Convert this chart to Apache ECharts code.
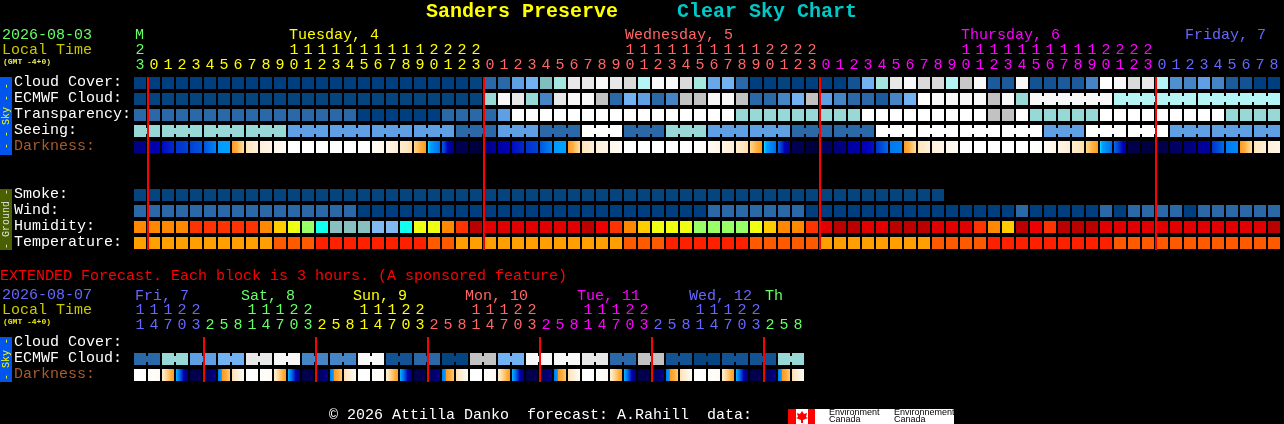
<!DOCTYPE html>
<html>
<head>
<meta charset="utf-8">
<style>html,body{margin:0;padding:0;background:#000}#c{width:1284px;height:424px}</style>
<script src="https://cdn.jsdelivr.net/npm/echarts@6/dist/echarts.min.js"></script>
</head>
<body>
<div id="c"></div>
<script>
// ---------- chart data ----------
const mainHours = [23,0,1,2,3,4,5,6,7,8,9,10,11,12,13,14,15,16,17,18,19,20,21,22,23,0,1,2,3,4,5,6,7,8,9,10,11,12,13,14,15,16,17,18,19,20,21,22,23,0,1,2,3,4,5,6,7,8,9,10,11,12,13,14,15,16,17,18,19,20,21,22,23,0,1,2,3,4,5,6,7,8];
const mainDayIndex = [0,1,1,1,1,1,1,1,1,1,1,1,1,1,1,1,1,1,1,1,1,1,1,1,1,2,2,2,2,2,2,2,2,2,2,2,2,2,2,2,2,2,2,2,2,2,2,2,2,3,3,3,3,3,3,3,3,3,3,3,3,3,3,3,3,3,3,3,3,3,3,3,3,4,4,4,4,4,4,4,4,4];
const extHours = [11,14,17,20,23,2,5,8,11,14,17,20,23,2,5,8,11,14,17,20,23,2,5,8,11,14,17,20,23,2,5,8,11,14,17,20,23,2,5,8,11,14,17,20,23,2,5,8];
const extDayIndex = [4,4,4,4,4,0,0,0,0,0,0,0,0,1,1,1,1,1,1,1,1,2,2,2,2,2,2,2,2,3,3,3,3,3,3,3,3,4,4,4,4,4,4,4,4,0,0,0];

const mainDayNames = ['M','Tuesday, 4','Wednesday, 5','Thursday, 6','Friday, 7'];
const mainDayCols  = [0,11,35,59,75];
const mainDayColor = [0,1,2,3,4];
const extDayNames  = ['Fri, 7','Sat, 8','Sun, 9','Mon, 10','Tue, 11','Wed, 12','Th'];
const extDayCols   = [0,7.57,15.57,23.57,31.57,39.57,45];
const extDayColor  = [4,0,1,2,3,4,0];

const mainRows = ['Cloud Cover:','ECMWF Cloud:','Transparency:','Seeing:','Darkness:','','','Smoke:','Wind:','Humidity:','Temperature:'];
const extRows  = ['Cloud Cover:','ECMWF Cloud:','Darkness:'];

const cloudCover = [0,0,0,0,0,0,0,0,0,0,0,0,0,0,0,0,0,0,0,0,0,0,0,0,5,20,20,40,50,55,65,90,90,95,90,85,70,95,95,85,65,45,50,20,0,0,5,0,0,0,0,10,50,65,90,95,85,85,70,82,95,15,15,95,10,10,15,15,30,100,95,85,90,70,35,30,40,30,15,10,0,0];
const ecmwfHourly = [5,5,5,5,5,5,5,5,5,5,5,5,5,5,5,5,5,5,5,5,5,5,5,5,5,60,95,90,60,30,90,95,95,80,20,50,40,20,30,80,80,95,95,80,20,20,30,50,80,40,30,20,20,15,30,50,100,95,95,95,95,80,95,60];
const ecmwfSixHourly = [95,70,70];
const transparency = [20,20,20,20,20,20,20,20,20,20,20,20,20,20,20,20,0,0,0,0,0,0,20,20,20,20,40,100,100,100,100,100,100,100,100,100,100,100,100,100,100,100,100,60,60,60,60,60,60,60,60,60,100,100,100,100,100,100,100,100,100,80,80,100,60,60,60,60,60,100,100,100,100,100,100,100,100,100,60,60,60,60];
const seeingBlocks = [60,60,60,60,40,40,40,40,20,40,20,100,20,60,40,40,20,20,100,100,100,100,40,100,100,40,40,40];
const seeingBlockLengths = [2,3,3,3,3,3,3,3,3,3,3,3,3,3,3,3,3,3,3,3,3,3,3,3,3,3,3,2];
const darkStart = [8.6,8,7.4,7,6.8,6.5,5.3,5,2.2,1.5,1,0,0,0,0,0,0,.4,1,1.7,2.8,5,6.4,9.2,9.5,8.6,8,7.4,7,6.5,5.3,5,2.2,1.5,1,0,0,0,0,0,0,.5,1,1.7,2.8,5,6.3,9.2,9.5,9,8.7,8,7.7,7,6,5,2.2,1.5,1,0,0,0,0,0,0,.5,1,1.7,2.8,5,6.2,9.3,9.5,9.3,9,8.7,8.2,7,5.9,5,2.2,1.5];
const darkEnd   = [8.4,7.6,7.1,6.8,6.5,5.8,5.2,2.5,1.5,1,.5,0,0,0,0,0,.2,.9,1.6,2.4,4.9,6.2,8.8,9.2,9.5,8,7.6,7.1,6.8,5.8,5.2,2.5,1.5,1,.5,0,0,0,0,0,.4,1,1.7,2.4,4.9,6.2,8.5,9.2,9.5,9,8.5,7.8,7.3,6.2,5.8,2.5,1.5,1,.5,0,0,0,0,0,.3,1,1.6,2.4,4.9,6.2,8,9.3,9.5,9.3,8.9,8.5,8,6.2,5.7,2.5,1.5,1];

const smoke = [5,5,5,5,5,5,5,5,5,5,5,5,5,5,5,5,5,5,5,5,5,5,5,5,5,5,5,5,5,5,5,5,5,5,5,5,5,5,5,5,5,5,5,5,5,5,5,5,5,5,5,5,5,5,5,5,5,5];
const wind = [20,20,20,20,20,20,20,20,20,20,20,20,20,20,20,20,0,0,0,0,0,0,0,0,0,0,0,0,0,0,0,0,0,0,0,0,0,0,0,0,0,20,20,20,20,20,20,20,0,0,0,0,0,0,0,0,0,0,0,0,0,0,0,20,0,0,0,0,0,20,0,20,20,20,20,0,20,20,20,20,20,20];
const humidity = [65,65,65,65,75,75,75,75,75,65,60,55,50,40,35,35,35,30,30,40,55,55,65,75,95,90,90,90,90,90,90,90,95,85,75,65,60,55,55,55,50,50,50,50,55,60,65,65,75,90,95,95,90,90,95,95,95,90,90,90,75,65,60,95,85,75,95,95,95,90,90,90,90,90,90,90,90,90,90,90,90,95];
const temperature = [21,21,21,21,21,21,21,21,21,21,25,25,25,29,29,29,29,29,29,29,29,25,25,21,21,21,21,21,21,21,21,21,21,21,21,25,25,25,29,29,29,29,29,29,25,25,25,25,25,21,21,21,21,21,21,21,21,25,25,25,25,29,29,29,29,29,29,29,29,29,25,25,25,25,25,25,25,25,25,25,25,25];

const extEcmwfBlocks = [20,60,40,50,90,95,30,30,95,10,20,5,80,50,95,95,90,20,80,10,5,10,10,60];
const extDarkStart = [0,0,1.5,5,9.3,9.2,6,2.4,0,0,1.5,5,9.3,9.2,6,2.4,0,0,1.5,5,9.3,9.2,6,2.4,0,0,1.5,5,9.3,9.2,6,2.4,0,0,1.5,5,9.3,9.2,6,2.4,0,0,1.5,5,9.3,9.2,6,2.4];
const extDarkEnd   = [0,.6,4.9,9,9.3,8.5,3.2,.5,0,.6,4.9,9,9.3,8.5,3.2,.5,0,.6,4.9,9,9.3,8.5,3.2,.5,0,.6,4.9,9,9.3,8.5,3.2,.5,0,.6,4.9,9,9.3,8.5,3.2,.5,0,.6,4.9,9,9.3,8.5,3.2,.5];

const mainMidnightCols = [1,25,49,73];
const extMidnightCols  = [5,13,21,29,37,45];

// ---------- colour scales ----------
const DAYPAL=['#66FF66','#FFFF00','#FF6666','#FF00FF','#6666FF'];
const skyScale = {0:'#003F7F',5:'#06447F',10:'#135393',15:'#1B5B9B',20:'#2B68A8',30:'#4585C5',35:'#5090D0',40:'#5F9FE4',45:'#68A8E8',50:'#72B2F2',55:'#80BFBF',60:'#98D8D6',65:'#A6E6E0',70:'#B4F4F4',80:'#C2C2C2',82:'#C8C8C8',85:'#DADADA',90:'#E8E8E8',95:'#F8F8F8',100:'#FFFFFF'};
const humidityScale = {30:'#80B8F0',35:'#88C0C0',40:'#11FFEE',50:'#99FF66',55:'#EEFF11',60:'#FFCC00',65:'#FF8800',75:'#FF3300',85:'#EE0000',90:'#E00000',95:'#BB0000'};
const temperatureScale = {21:'#FFA000',25:'#FF5A00',29:'#FF2000'};
const darkScale = [[0,'#FFFFFF'],[1,'#FFF6E8'],[2,'#FFE8C4'],[3,'#FFD080'],[4,'#FFB040'],[4.95,'#FF9820'],[5,'#00E8FF'],[5.2,'#00A0FF'],[6,'#0078F0'],[6.5,'#0055DD'],[7,'#0033CC'],[7.5,'#0000C0'],[8,'#0000A0'],[8.5,'#000088'],[9,'#000060'],[9.5,'#000040']];

function hexRgb(h){return [parseInt(h.slice(1,3),16),parseInt(h.slice(3,5),16),parseInt(h.slice(5,7),16)];}
function darkColor(d){
  for(let i=0;i<darkScale.length-1;i++){
    const a=darkScale[i],b=darkScale[i+1];
    if(d<=b[0]){
      if(d<=a[0])return a[1];
      const t=(d-a[0])/(b[0]-a[0]),A=hexRgb(a[1]),B=hexRgb(b[1]);
      return 'rgb('+A.map((v,k)=>Math.round(v+(B[k]-v)*t)).join(',')+')';
    }
  }
  return darkScale[darkScale.length-1][1];
}
function darkFill(s,e){
  if(s===e)return darkColor(s);
  const stops=[];const n=12;
  for(let i=0;i<n;i++){
    const c=darkColor(s+(e-s)*(i+.5)/n);
    stops.push({offset:i/n,color:c},{offset:(i+1)/n,color:c});
  }
  return new echarts.graphic.LinearGradient(0,0,1,0,stops);
}

// ---------- build cells ----------
const mainCells=[],extCells=[];
function push(list,col,row,fill,join){list.push({value:[col,row],fill:fill,join:!!join});}
function addRow(list,row,vals,scale){vals.forEach((v,i)=>push(list,i,row,scale[v]));}
function addBlocks(list,row,start,vals,lens,scale){
  let c=start;
  vals.forEach((v,b)=>{for(let k=0;k<lens[b];k++,c++)push(list,c,row,scale[v],k<lens[b]-1);});
}
addRow(mainCells,0,cloudCover,skyScale);
addRow(mainCells,1,ecmwfHourly,skyScale);
addBlocks(mainCells,1,ecmwfHourly.length,ecmwfSixHourly,ecmwfSixHourly.map(()=>6),skyScale);
addRow(mainCells,2,transparency,skyScale);
addBlocks(mainCells,3,0,seeingBlocks,seeingBlockLengths,skyScale);
darkStart.forEach((s,i)=>push(mainCells,i,4,darkFill(s,darkEnd[i])));
addRow(mainCells,7,smoke,skyScale);
addRow(mainCells,8,wind,skyScale);
addRow(mainCells,9,humidity,humidityScale);
addRow(mainCells,10,temperature,temperatureScale);
addBlocks(extCells,1,0,extEcmwfBlocks,extEcmwfBlocks.map(()=>2),skyScale);
extDarkStart.forEach((s,i)=>push(extCells,i,2,darkFill(s,extDarkEnd[i])));

const FONT='"Liberation Mono",monospace';

function cellRenderer(list){
  return function(params,api){
    const it=list[params.dataIndex];
    const p=api.coord([api.value(0),api.value(1)]);
    const kids=[{type:'rect',shape:{x:p[0]-6,y:p[1]-6,width:12,height:12},style:{fill:it.fill}}];
    if(it.join)kids.push({type:'rect',shape:{x:p[0]+6,y:p[1]-3,width:2,height:6},style:{fill:it.fill}});
    return {type:'group',children:kids};
  };
}
function redRenderer(topRow,botRow){
  return function(params,api){
    const a=api.coord([api.value(0),topRow]),b=api.coord([api.value(0),botRow]);
    return {type:'rect',shape:{x:a[0]-7,y:a[1]-6,width:2,height:b[1]-a[1]+13},style:{fill:'#FF0000'}};
  };
}
function headerSeries(names,cols,pal,xIdx,yIdx,dy){
  return {type:'custom',coordinateSystem:'cartesian2d',xAxisIndex:xIdx,yAxisIndex:yIdx,silent:true,z:5,clip:false,
    data:cols.map(c=>[Math.floor(c),0]),
    renderItem(params,api){
      const i=params.dataIndex,c=cols[i];
      const p=api.coord([api.value(0),0]);
      return {type:'text',x:p[0]-5+(c-Math.floor(c))*14,y:p[1]+dy,
        style:{text:names[i],fill:DAYPAL[pal[i]],font:'15px '+FONT,textVerticalAlign:'middle',textAlign:'left'}};
    }};
}
function rowLabelSeries(rows,xIdx,yIdx){
  return {type:'custom',coordinateSystem:'cartesian2d',xAxisIndex:xIdx,yAxisIndex:yIdx,silent:true,z:5,clip:false,
    data:rows.map((r,i)=>[0,i]),
    renderItem(params,api){
      const r=rows[params.dataIndex];
      if(!r)return null;
      const p=api.coord([0,api.value(1)]);
      return {type:'text',x:p[0]-126,y:p[1]-1,
        style:{text:r,fill:r==='Darkness:'?'#A85C2C':'#FFFFFF',font:'15px '+FONT,textVerticalAlign:'middle',textAlign:'left'}};
    }};
}
function hourAxis(hours,dayIdx,grid,tens){
  return {type:'category',gridIndex:grid,position:'top',offset:tens?15:0,
    data:hours.map((h,i)=>({value:tens?(h>=10?String(Math.floor(h/10)):''):String(h%10),textStyle:{color:DAYPAL[dayIdx[i]]}})),
    axisLine:{show:false},axisTick:{show:false},splitLine:{show:false},
    axisLabel:{show:true,interval:0,margin:2,fontFamily:FONT,fontSize:15,hideOverlap:false}};
}
function rowAxis(rows,grid){
  return {type:'category',gridIndex:grid,inverse:true,data:rows,
    axisLine:{show:false},axisTick:{show:false},splitLine:{show:false},axisLabel:{show:false}};
}
function txt(s,x,y,fill,size,extra){
  extra=extra||{};
  const o={type:'text',x:x,y:y,z:5,silent:true,style:{text:s,fill:fill,font:(extra.bold?'bold ':'')+size+'px '+(extra.family||FONT),textVerticalAlign:'middle',textAlign:extra.align||'left'}};
  if(extra.rotation)o.rotation=extra.rotation;
  return o;
}
const LOGO_FONT='"Liberation Sans",sans-serif';
const graphics=[
  {type:'rect',silent:true,z:1,shape:{x:0,y:77,width:12,height:78},style:{fill:'#0055EE'}},
  {type:'rect',silent:true,z:1,shape:{x:0,y:189,width:12,height:61},style:{fill:'#4A6000'}},
  {type:'rect',silent:true,z:1,shape:{x:0,y:337,width:12,height:45},style:{fill:'#0055EE'}},
  txt('- - Sky - -',6,116,'#FFFF00',10,{rotation:Math.PI/2,align:'center'}),
  txt('- Ground -',6,219,'#E0E0E0',10,{rotation:Math.PI/2,align:'center'}),
  txt('- Sky -',6,359,'#FFFF00',10,{rotation:Math.PI/2,align:'center'}),
  txt('Sanders Preserve',426,12,'#FFFF00',20,{bold:true}),
  txt('Clear Sky Chart',677,12,'#00C8C8',20,{bold:true}),
  txt('2026-08-03',2,35,'#66FF66',15),
  txt('Local Time',2,50,'#C8C800',15),
  txt('(GMT -4+0)',3,62,'#E8E860',8,{bold:true}),
  txt('EXTENDED Forecast. Each block is 3 hours. (A sponsored feature)',0,276,'#FF0000',15),
  txt('2026-08-07',2,295,'#6666FF',15),
  txt('Local Time',2,310,'#C8C800',15),
  txt('(GMT -4+0)',3,322,'#E8E800',8,{bold:true}),
  txt('© 2026 Attilla Danko  forecast: A.Rahill  data:',329,415,'#FFFFFF',15),
  {type:'rect',silent:true,z:2,shape:{x:788,y:409,width:166,height:15},style:{fill:'#FFFFFF'}},
  {type:'rect',silent:true,z:3,shape:{x:788,y:409,width:8,height:15},style:{fill:'#FF0000'}},
  {type:'rect',silent:true,z:3,shape:{x:808,y:409,width:7,height:15},style:{fill:'#FF0000'}},
  {type:'polygon',silent:true,z:3,shape:{points:[[802,411],[804,414],[807,413],[806,417],[808,418],[803,420],[803,423],[801,423],[801,420],[796,418],[798,417],[797,413],[800,414]]},style:{fill:'#FF0000'}},
  txt('Environment',829,412.5,'#000000',9,{family:LOGO_FONT}),
  txt('Canada',829,420,'#000000',9,{family:LOGO_FONT}),
  txt('Environnement',894,412.5,'#000000',9,{family:LOGO_FONT}),
  txt('Canada',894,420,'#000000',9,{family:LOGO_FONT})
];

const chart=echarts.init(document.getElementById('c'),null,{renderer:'canvas'});
chart.setOption({
  backgroundColor:'#000000',animation:false,tooltip:{show:false},legend:{show:false},
  grid:[
    {left:133,top:75,width:1148,height:176,containLabel:false,outerBoundsMode:'none'},
    {left:133,top:335,width:672,height:48,containLabel:false,outerBoundsMode:'none'}
  ],
  xAxis:[hourAxis(mainHours,mainDayIndex,0,false),hourAxis(mainHours,mainDayIndex,0,true),hourAxis(extHours,extDayIndex,1,false),hourAxis(extHours,extDayIndex,1,true)],
  yAxis:[rowAxis(mainRows,0),rowAxis(extRows,1)],
  graphic:{elements:graphics},
  series:[
    {type:'custom',coordinateSystem:'cartesian2d',xAxisIndex:0,yAxisIndex:0,silent:true,z:2,clip:false,data:mainCells.map(c=>c.value),renderItem:cellRenderer(mainCells)},
    {type:'custom',coordinateSystem:'cartesian2d',xAxisIndex:2,yAxisIndex:1,silent:true,z:2,clip:false,data:extCells.map(c=>c.value),renderItem:cellRenderer(extCells)},
    {type:'custom',coordinateSystem:'cartesian2d',xAxisIndex:0,yAxisIndex:0,silent:true,z:3,clip:false,data:mainMidnightCols.map(c=>[c,0]),renderItem:redRenderer(0,10)},
    {type:'custom',coordinateSystem:'cartesian2d',xAxisIndex:2,yAxisIndex:1,silent:true,z:3,clip:false,data:extMidnightCols.map(c=>[c,0]),renderItem:redRenderer(0,2)},
    headerSeries(mainDayNames,mainDayCols,mainDayColor,0,0,-48),
    headerSeries(extDayNames,extDayCols,extDayColor,2,1,-47),
    rowLabelSeries(mainRows,0,0),
    rowLabelSeries(extRows,2,1)
  ]
});
</script>
</body>
</html>
